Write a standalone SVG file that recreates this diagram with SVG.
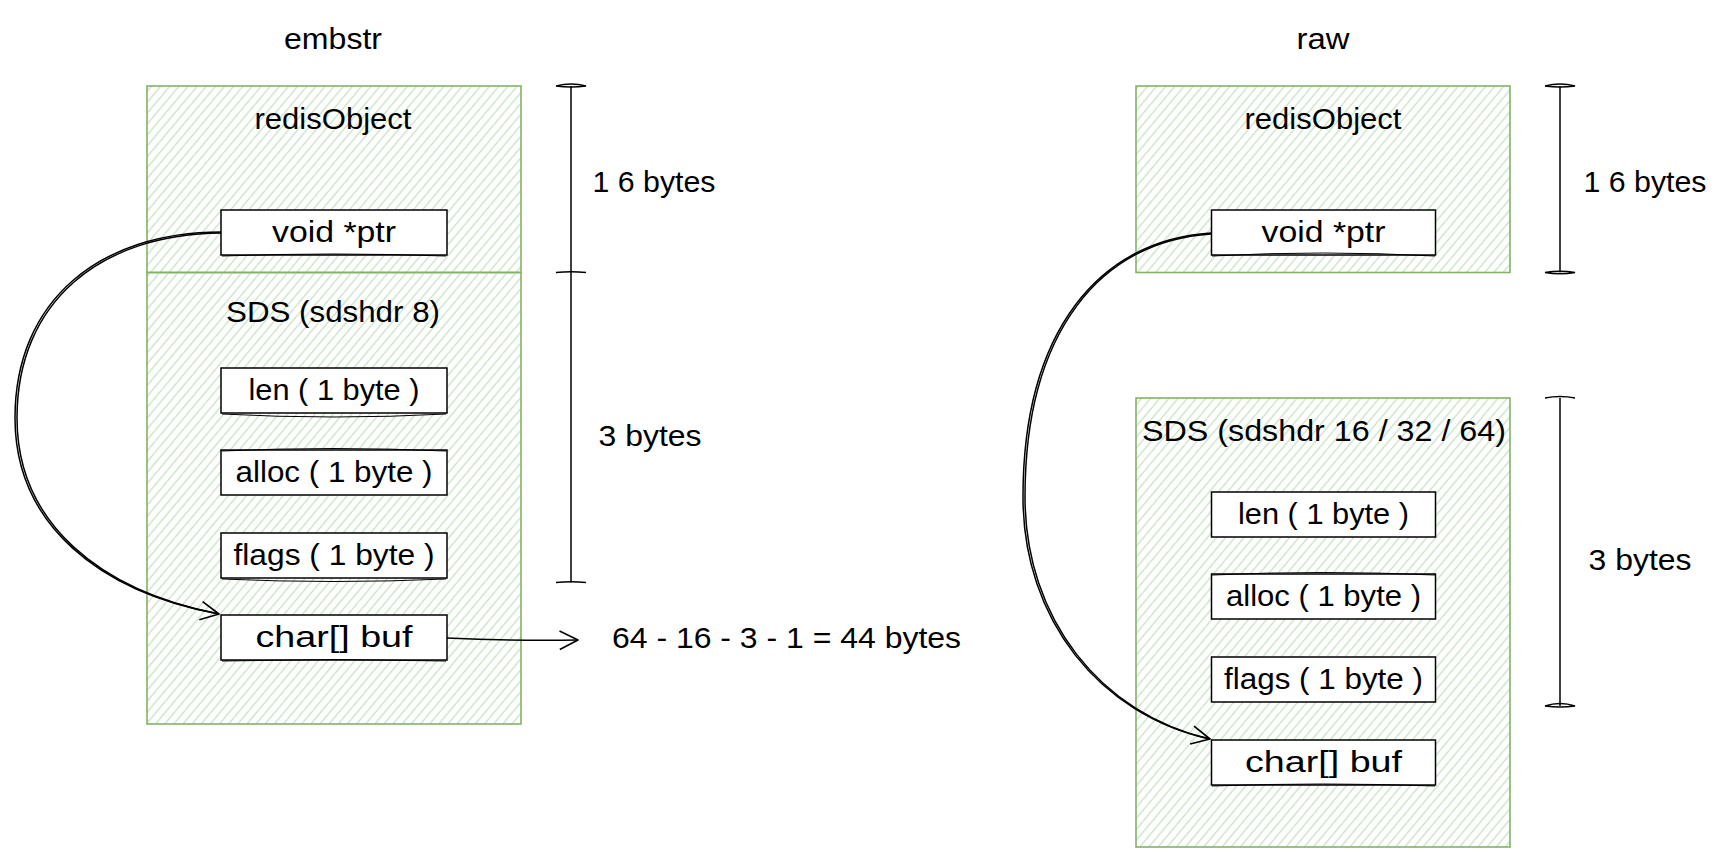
<svg xmlns="http://www.w3.org/2000/svg" width="1730" height="864" viewBox="0 0 1730 864">
  <defs>
    <!-- hachure fill used by the green containers -->
    <pattern id="hatch" patternUnits="userSpaceOnUse" width="7" height="7" patternTransform="rotate(40)">
      <line x1="3.5" y1="0" x2="3.5" y2="7" stroke="#c9e2c5" stroke-width="1.4"/>
    </pattern>
    <marker id="open-arrow-lg" viewBox="0 0 12 12" refX="11" refY="6" markerWidth="22" markerHeight="22" markerUnits="userSpaceOnUse" orient="auto">
      <path d="M1,1 L11,6 L1,11" fill="none" stroke="#000" stroke-width="0.9" stroke-linejoin="round"/>
    </marker>
  </defs>
  <style>
    .container { fill: url(#hatch); stroke: #82b366; stroke-width: 1.6; }
    .field { fill: #ffffff; stroke: #000000; stroke-width: 1.5; }
    .field-edge { fill: none; stroke: #000000; stroke-width: 1; }
    .label { font-family: "Liberation Sans", Arial, sans-serif; font-size: 30px; fill: #000000; text-anchor: middle; }
    .label-start { font-family: "Liberation Sans", Arial, sans-serif; font-size: 30px; fill: #000000; text-anchor: start; }
    .dim { fill: none; stroke: #000000; stroke-width: 1.5; }
    .tick { fill: none; stroke: #000000; stroke-width: 1.4; }
    .conn { fill: none; stroke: #000000; stroke-width: 1.5; }
  </style>

  <rect x="0" y="0" width="1730" height="864" fill="#ffffff"/>

  <!-- column titles -->
  <g id="title-embstr">
    <text class="label" x="333" y="49" textLength="98" lengthAdjust="spacingAndGlyphs">embstr</text>
  </g>
  <g id="title-raw">
    <text class="label" x="1323" y="49" textLength="53" lengthAdjust="spacingAndGlyphs">raw</text>
  </g>

  <!-- ===== embstr: one contiguous allocation ===== -->
  <g id="embstr-redisobject">
    <rect class="container" x="147" y="86" width="374" height="186.5"/>
    <text class="label" x="333" y="129" textLength="157" lengthAdjust="spacingAndGlyphs">redisObject</text>
  </g>
  <g id="embstr-ptr">
    <rect class="field" x="221" y="210" width="226" height="45"/>
    <path class="field-edge" d="M222,256 Q334,252 446,256"/>
    <text class="label" x="334" y="242" textLength="124" lengthAdjust="spacingAndGlyphs">void *ptr</text>
  </g>
  <g id="embstr-sds">
    <rect class="container" x="147" y="272.5" width="374" height="451.5"/>
    <text class="label" x="333" y="322" textLength="214" lengthAdjust="spacingAndGlyphs">SDS (sdshdr 8)</text>
  </g>
  <g id="embstr-len">
    <rect class="field" x="221" y="368" width="226" height="45"/>
    <path class="field-edge" d="M222,414 Q334,420 446,414"/>
    <text class="label" x="334" y="400" textLength="171" lengthAdjust="spacingAndGlyphs">len ( 1 byte )</text>
  </g>
  <g id="embstr-alloc">
    <rect class="field" x="221" y="450" width="226" height="45"/>
    <path class="field-edge" d="M222,451 Q334,446 446,451"/>
    <text class="label" x="334" y="482" textLength="197" lengthAdjust="spacingAndGlyphs">alloc ( 1 byte )</text>
  </g>
  <g id="embstr-flags">
    <rect class="field" x="221" y="533" width="226" height="45"/>
    <path class="field-edge" d="M222,579 Q334,584 446,579"/>
    <text class="label" x="334" y="565" textLength="201" lengthAdjust="spacingAndGlyphs">flags ( 1 byte )</text>
  </g>
  <g id="embstr-buf">
    <rect class="field" x="221" y="615" width="226" height="45"/>
    <path class="field-edge" d="M222,661 Q334,658 446,661"/>
    <text class="label" x="334" y="647" textLength="157" lengthAdjust="spacingAndGlyphs">char[] buf</text>
  </g>

  <!-- size brackets, embstr -->
  <g id="embstr-dims">
    <line class="dim" x1="571" y1="86" x2="571" y2="582.5"/>
    <path class="tick" d="M556,86 Q571,82 586,86 Q571,88 556,86"/>
    <path class="tick" d="M556,272.5 Q571,271 586,272.5"/>
    <path class="tick" d="M556,582.5 Q571,581 586,582.5"/>
    <text class="label" x="654" y="192" textLength="123" lengthAdjust="spacingAndGlyphs">1 6 bytes</text>
    <text class="label" x="650" y="446" textLength="103" lengthAdjust="spacingAndGlyphs">3 bytes</text>
  </g>
  <g id="embstr-buf-size">
    <text class="label-start" x="612" y="648" textLength="349" lengthAdjust="spacingAndGlyphs">64 - 16 - 3 - 1 = 44 bytes</text>
  </g>

  <!-- ===== raw: two separate allocations ===== -->
  <g id="raw-redisobject">
    <rect class="container" x="1136" y="86" width="374" height="186.5"/>
    <text class="label" x="1323" y="129" textLength="157" lengthAdjust="spacingAndGlyphs">redisObject</text>
  </g>
  <g id="raw-ptr">
    <rect class="field" x="1211.5" y="210" width="224" height="45"/>
    <path class="field-edge" d="M1212,256 Q1323,250 1435,256"/>
    <text class="label" x="1323.5" y="242" textLength="124" lengthAdjust="spacingAndGlyphs">void *ptr</text>
  </g>
  <g id="raw-sds">
    <rect class="container" x="1136" y="398" width="374" height="449"/>
    <text class="label" x="1324" y="441" textLength="364" lengthAdjust="spacingAndGlyphs">SDS (sdshdr 16 / 32 / 64)</text>
  </g>
  <g id="raw-len">
    <rect class="field" x="1211.5" y="492" width="224" height="45"/>
    <text class="label" x="1323.5" y="524" textLength="171" lengthAdjust="spacingAndGlyphs">len ( 1 byte )</text>
  </g>
  <g id="raw-alloc">
    <rect class="field" x="1211.5" y="574" width="224" height="45"/>
    <path class="field-edge" d="M1212,575 Q1323,570 1435,575"/>
    <text class="label" x="1323.5" y="606" textLength="195" lengthAdjust="spacingAndGlyphs">alloc ( 1 byte )</text>
  </g>
  <g id="raw-flags">
    <rect class="field" x="1211.5" y="657" width="224" height="45"/>
    <text class="label" x="1323.5" y="689" textLength="199" lengthAdjust="spacingAndGlyphs">flags ( 1 byte )</text>
  </g>
  <g id="raw-buf">
    <rect class="field" x="1211.5" y="740" width="224" height="45"/>
    <path class="field-edge" d="M1212,786 Q1323,782 1435,786"/>
    <text class="label" x="1323.5" y="772" textLength="157" lengthAdjust="spacingAndGlyphs">char[] buf</text>
  </g>

  <!-- size brackets, raw -->
  <g id="raw-dims">
    <line class="dim" x1="1560" y1="86" x2="1560" y2="272.5"/>
    <path class="tick" d="M1545,86 Q1560,82 1575,86 Q1560,88 1545,86"/>
    <path class="tick" d="M1545,272.5 Q1560,275 1575,272.5 Q1560,270 1545,272.5"/>
    <line class="dim" x1="1560" y1="398" x2="1560" y2="706"/>
    <path class="tick" d="M1545,398 Q1560,395 1575,398"/>
    <path class="tick" d="M1545,706 Q1560,701 1575,706 Q1560,708 1545,706"/>
    <text class="label" x="1645" y="192" textLength="123" lengthAdjust="spacingAndGlyphs">1 6 bytes</text>
    <text class="label" x="1640" y="570" textLength="103" lengthAdjust="spacingAndGlyphs">3 bytes</text>
  </g>

  <!-- pointers -->
  <g id="connectors">
    <path class="conn" d="M221,232 C100,232 15,300 15,418 C15,525 100,592 219,614" marker-end="url(#open-arrow-lg)"/>
    <path class="conn" d="M221,233 C101,234 17,301 17,418 C17,524 101,591 219,614" stroke-width="0.8"/>
    <path class="conn" d="M1211,233 C1100,240 1023,330 1023,497 C1023,620 1100,715 1210,739" marker-end="url(#open-arrow-lg)"/>
    <path class="conn" d="M1211,234 C1101,241 1025,331 1025,497 C1025,619 1101,714 1210,739" stroke-width="0.8"/>
    <path class="conn" d="M447,638 Q512,641 578,640" marker-end="url(#open-arrow-lg)"/>
  </g>
</svg>
